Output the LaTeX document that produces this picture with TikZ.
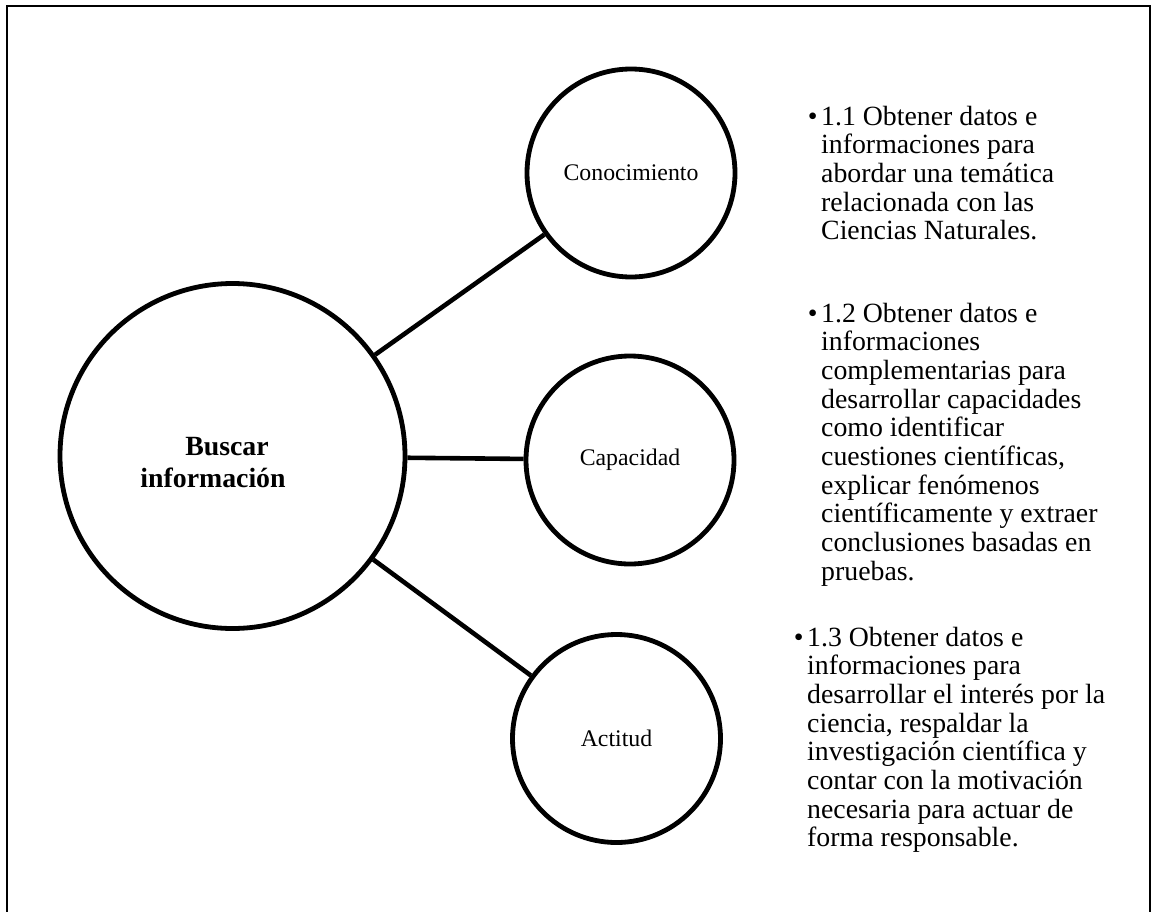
\documentclass[tikz,border=0pt]{standalone}
\usepackage{fontspec}
\setmainfont{Liberation Serif}
\begin{document}
\begin{tikzpicture}[x=1pt,y=-1pt,
  hub/.style={circle, draw, line width=4.8pt, minimum size=345pt, inner sep=0pt},
  topic/.style={circle, draw, line width=4.8pt, minimum size=208pt, inner sep=0pt,
    font=\fontsize{23.8}{28}\selectfont},
  hubtext/.style={align=center, inner sep=0pt, font=\bfseries\fontsize{27.8}{31.7}\selectfont},
  link/.style={line width=4.6pt},
  note/.style={anchor=base west, inner sep=0pt, font=\fontsize{27.8}{28.7}\selectfont},
  frame/.style={line width=2pt}]
\useasboundingbox (0,0) rectangle (1154,911);
% open frame around the diagram
\draw[frame] (6.5,915) -- (6.5,5.5) -- (1150,5.5) -- (1150,915);

% central circle and its three topics
\node[hub] (hub) at (232.5,456) {};
\node[hubtext] (title) at (213,462.5) {\hspace*{28pt}Buscar\\información};
\node[topic] (con) at (631,173) {Conocimiento};
\node[topic] (cap) at (630,460) {Capacidad};
\node[topic] (act) at (616.5,738.5) {Actitud};

\draw[link] (hub) -- (con);
\draw[link] (hub) -- (cap);
\draw[link] (hub) -- (act);

% descriptions
\node[note] (n1) at (821,125) {\begin{tabular}[t]{@{}l@{}}
\llap{•\hspace{3.5pt}}1.1 Obtener datos e\\
informaciones para\\
abordar una temática\\
relacionada con las\\
Ciencias Naturales.
\end{tabular}};

\node[note] (n2) at (821,322) {\begin{tabular}[t]{@{}l@{}}
\llap{•\hspace{3.5pt}}1.2 Obtener datos e\\
informaciones\\
complementarias para\\
desarrollar capacidades\\
como identificar\\
cuestiones científicas,\\
explicar fenómenos\\
científicamente y extraer\\
conclusiones basadas en\\
pruebas.
\end{tabular}};

\node[note] (n3) at (807,646) {\begin{tabular}[t]{@{}l@{}}
\llap{•\hspace{3.5pt}}1.3 Obtener datos e\\
informaciones para\\
desarrollar el interés por la\\
ciencia, respaldar la\\
investigación científica y\\
contar con la motivación\\
necesaria para actuar de\\
forma responsable.
\end{tabular}};
\end{tikzpicture}
\end{document}
